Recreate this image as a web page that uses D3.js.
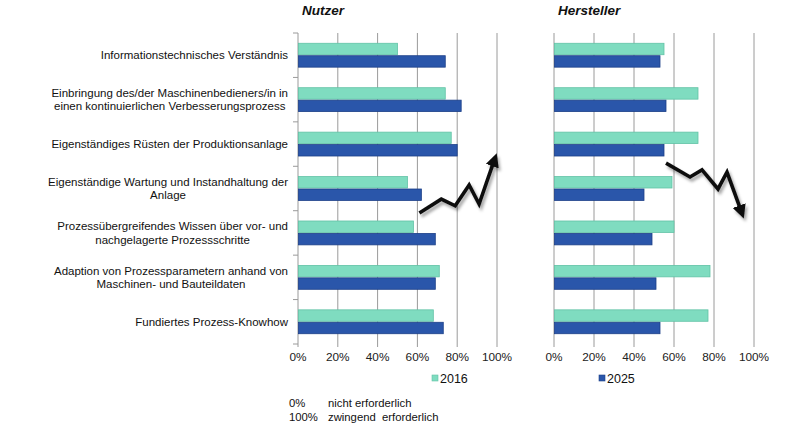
<!DOCTYPE html>
<html>
<head>
<meta charset="utf-8">
<script src="https://cdn.jsdelivr.net/npm/d3@7"></script>
<style>
  html, body { margin: 0; padding: 0; background: #fff; }
  svg { display: block; font-family: "Liberation Sans", Arial, sans-serif; }
</style>
</head>
<body>
<svg id="chart" width="800" height="436"></svg>
<script>
// Categories (line breaks as in the original labels)
const categories = [
  "Informationstechnisches Verständnis",
  "Einbringung des/der Maschinenbedieners/in in\neinen kontinuierlichen Verbesserungsprozess",
  "Eigenständiges Rüsten der Produktionsanlage",
  "Eigenständige Wartung und Instandhaltung der\nAnlage",
  "Prozessübergreifendes Wissen über vor- und\nnachgelagerte Prozessschritte",
  "Adaption von Prozessparametern anhand von\nMaschinen- und Bauteildaten",
  "Fundiertes Prozess-Knowhow"
];
const years = ["2016", "2025"];

// values in % — panel "Nutzer"
const nutzer2016 = [50, 74, 77, 55, 58, 71, 68];
const nutzer2025 = [74, 82, 80, 62, 69, 69, 73];
// panel "Hersteller"
const hersteller2016 = [55, 72, 72, 59, 60, 78, 77];
const hersteller2025 = [53, 56, 55, 45, 49, 51, 53];

const xTicks = [0, 20, 40, 60, 80, 100];

// decorative trend arrows: [percent, category position (0..7)]
const arrowUp   = [[61, 4.05], [72, 3.74], [79, 3.89], [86, 3.42], [91, 3.85], [98.5, 2.88]];
const arrowDown = [[56, 2.93], [68, 3.24], [74, 3.08], [82, 3.51], [86.5, 3.13], [93.5, 4.0]];

const COLORS = { "2016": "#7fdcc0", "2025": "#2a56aa" };
const STROKES = { "2016": "#62c2a6", "2025": "#1d4088" };

const TOP = 33, BOTTOM = 344;
const svg = d3.select("#chart");

const defs = svg.append("defs");
const shadow = defs.append("filter").attr("id", "shadow")
  .attr("x", "-20%").attr("y", "-20%").attr("width", "150%").attr("height", "150%");
shadow.append("feDropShadow")
  .attr("dx", 2).attr("dy", 3).attr("stdDeviation", 1.8)
  .attr("flood-color", "#000").attr("flood-opacity", 0.35);
defs.append("marker").attr("id", "head")
  .attr("viewBox", "0 0 10 10").attr("refX", 4).attr("refY", 5)
  .attr("markerWidth", 3.8).attr("markerHeight", 3.8).attr("orient", "auto")
  .append("path").attr("d", "M0,0 L10,5 L0,10 Z").attr("fill", "#111");

const y = d3.scaleBand(categories, [TOP, BOTTOM]).paddingInner(0.44).paddingOuter(0.22);
const ySub = d3.scaleBand(years, [0, y.bandwidth()]);
const yLin = d3.scaleLinear([0, categories.length], [TOP, BOTTOM]);

function panel(x0, x1, title, v2016, v2025, arrow, withTicks) {
  const x = d3.scaleLinear([0, 100], [x0, x1]);
  const g = svg.append("g");

  // gridlines
  g.selectAll("line.grid").data(xTicks).join("line")
    .attr("class", "grid")
    .attr("x1", d => x(d)).attr("x2", d => x(d))
    .attr("y1", TOP).attr("y2", BOTTOM + 3)
    .attr("stroke", "#9a9a9a").attr("stroke-width", 1);

  if (withTicks) {
    g.selectAll("line.ytick").data(d3.range(categories.length + 1)).join("line")
      .attr("class", "ytick")
      .attr("x1", x(0) - 5).attr("x2", x(0))
      .attr("y1", d => yLin(d)).attr("y2", d => yLin(d))
      .attr("stroke", "#9a9a9a");
  }

  // tick labels
  g.selectAll("text.xt").data(xTicks).join("text")
    .attr("class", "xt")
    .attr("x", d => x(d)).attr("y", BOTTOM + 17)
    .attr("text-anchor", "middle").attr("font-size", 11.8).attr("fill", "#222")
    .text(d => d + "%");

  // bars
  const rows = categories.map((c, i) => ({ c, vals: [["2016", v2016[i]], ["2025", v2025[i]]] }));
  g.selectAll("g.row").data(rows).join("g")
    .attr("class", "row")
    .attr("transform", d => `translate(0,${y(d.c)})`)
    .selectAll("rect").data(d => d.vals).join("rect")
    .attr("x", x(0) + 0.5)
    .attr("y", d => ySub(d[0]) + 0.5)
    .attr("width", d => x(d[1]) - x(0) - 0.5)
    .attr("height", ySub.bandwidth() - 1)
    .attr("fill", d => COLORS[d[0]])
    .attr("stroke", d => STROKES[d[0]]).attr("stroke-width", 0.8);

  // title
  svg.append("text")
    .attr("x", x0 + 4).attr("y", 15)
    .attr("font-size", 13.5).attr("font-weight", "bold").attr("font-style", "italic")
    .attr("fill", "#111")
    .text(title);

  // arrow
  g.append("path")
    .attr("d", d3.line().x(d => x(d[0])).y(d => yLin(d[1]))(arrow))
    .attr("fill", "none").attr("stroke", "#111").attr("stroke-width", 3.6)
    .attr("stroke-linejoin", "miter")
    .attr("marker-end", "url(#head)")
    .attr("filter", "url(#shadow)");
}

panel(298, 497, "Nutzer", nutzer2016, nutzer2025, arrowUp, true);
panel(554, 754, "Hersteller", hersteller2016, hersteller2025, arrowDown, false);

// category labels: block right-aligned, lines centred within block
const LABEL_RIGHT = 288, LINE_H = 13.5;
categories.forEach(c => {
  const lines = c.split("\n");
  const t = svg.append("text")
    .attr("font-size", 11.5).attr("fill", "#111").attr("text-anchor", "middle");
  const cy = y(c) + y.bandwidth() / 2;
  lines.forEach((ln, i) => {
    t.append("tspan")
      .attr("y", cy + 4 + (i - (lines.length - 1) / 2) * LINE_H)
      .text(ln);
  });
  const w = d3.max(t.selectAll("tspan").nodes(), n => n.getComputedTextLength());
  t.selectAll("tspan").attr("x", LABEL_RIGHT - w / 2);
});

// legend
const legend = [["2016", 432], ["2025", 599]];
legend.forEach(([k, lx]) => {
  svg.append("rect").attr("x", lx).attr("y", 375).attr("width", 6).attr("height", 6)
    .attr("fill", COLORS[k]).attr("stroke", STROKES[k]).attr("stroke-width", 0.6);
  svg.append("text").attr("x", lx + 8).attr("y", 383)
    .attr("font-size", 12.5).attr("fill", "#111").text(k);
});

// footnote
const notes = [["0%", "nicht erforderlich"], ["100%", "zwingend  erforderlich"]];
notes.forEach(([a, b], i) => {
  svg.append("text").attr("x", 289).attr("y", 407 + i * 14)
    .attr("font-size", 11.3).attr("fill", "#111").text(a);
  svg.append("text").attr("x", 328).attr("y", 407 + i * 14)
    .attr("font-size", 11.3).attr("fill", "#111").attr("xml:space", "preserve").text(b);
});
</script>
</body>
</html>
